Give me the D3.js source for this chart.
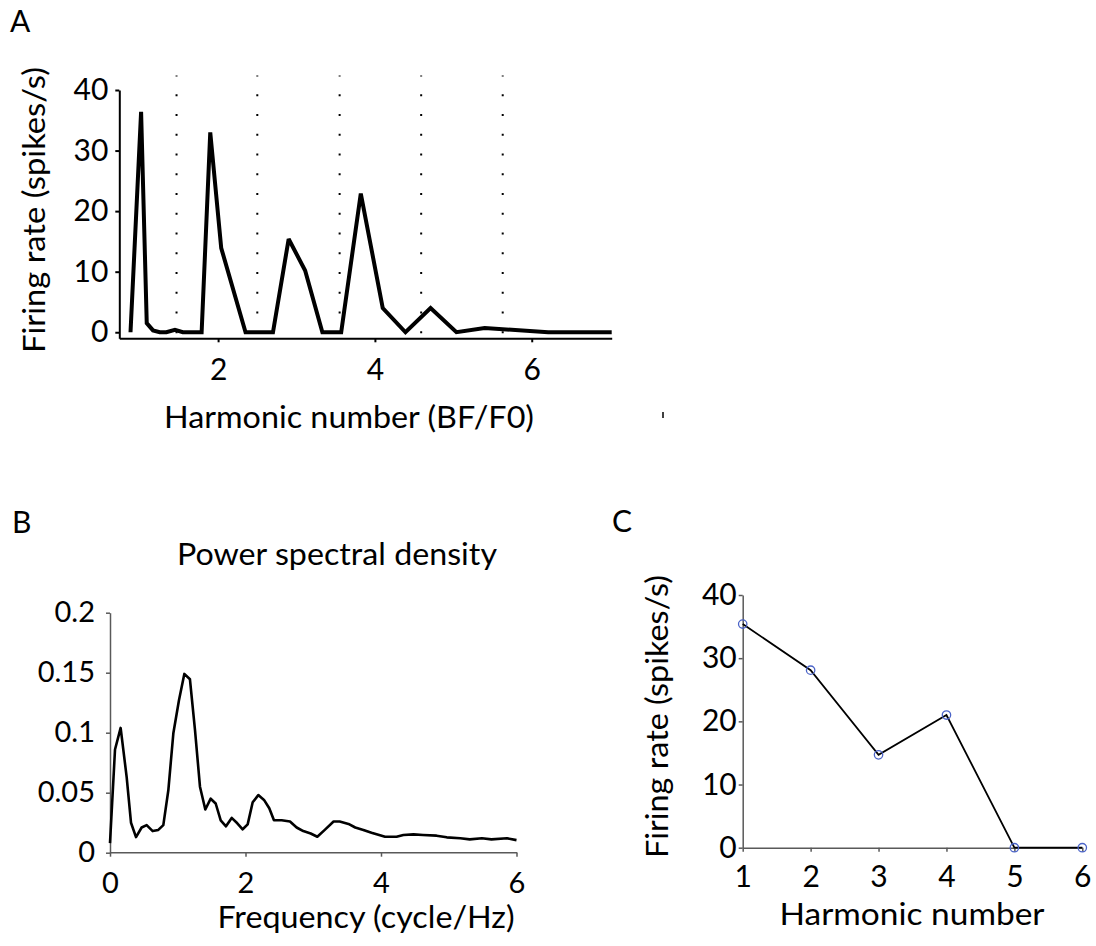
<!DOCTYPE html>
<html>
<head>
<meta charset="utf-8">
<script src="https://cdn.jsdelivr.net/npm/d3@7"></script>
<style>
  body { margin: 0; background: #fff; }
  text { font-family: Lato, "Open Sans", sans-serif; fill: #000; }
</style>
</head>
<body>
<script>
// ---------- Panel A data ----------
const harmonicA = [0.883, 1.018, 1.09, 1.17, 1.256, 1.34, 1.45, 1.55, 1.79, 1.90, 2.04, 2.35, 2.70, 2.90, 3.11, 3.33, 3.57, 3.82, 4.10, 4.39, 4.71, 5.04, 5.40, 6.21, 7.02];
const rateA = [0, 36.4, 1.5, 0.3, 0, 0, 0.4, 0, 0, 33.0, 13.9, 0, 0, 15.4, 10.2, 0, 0, 22.9, 4.0, 0, 4.0, 0, 0.7, 0, 0];
const boundariesA = [1.47, 2.50, 3.55, 4.59, 5.63];
const aYTicks = [0, 10, 20, 30, 40];
const aXTicks = [2, 4, 6];

// ---------- Panel B data ----------
const freqB = [0, 0.074, 0.157, 0.246, 0.31, 0.384, 0.467, 0.541, 0.63, 0.713, 0.787, 0.861, 0.935, 1.018, 1.097, 1.18, 1.255, 1.328, 1.407, 1.486, 1.56, 1.634, 1.712, 1.796, 1.879, 1.958, 2.032, 2.106, 2.189, 2.273, 2.351, 2.42, 2.534, 2.657, 2.755, 2.853, 2.962, 3.06, 3.17, 3.30, 3.39, 3.52, 3.62, 3.74, 3.86, 4.06, 4.23, 4.33, 4.48, 4.62, 4.82, 4.97, 5.17, 5.31, 5.49, 5.63, 5.86, 6.0];
const psdB = [0.008, 0.086, 0.104, 0.063, 0.025, 0.013, 0.021, 0.023, 0.018, 0.019, 0.023, 0.052, 0.0995, 0.127, 0.149, 0.1445, 0.102, 0.055, 0.036, 0.045, 0.041, 0.027, 0.022, 0.029, 0.0245, 0.0195, 0.0236, 0.042, 0.048, 0.044, 0.037, 0.027, 0.027, 0.026, 0.021, 0.018, 0.016, 0.0133, 0.019, 0.026, 0.026, 0.024, 0.021, 0.019, 0.0167, 0.0133, 0.0133, 0.0148, 0.0153, 0.0148, 0.0142, 0.0128, 0.012, 0.0111, 0.012, 0.0111, 0.012, 0.0105];
const bYTicks = [0, 0.05, 0.1, 0.15, 0.2];
const bXTicks = [0, 2, 4, 6];

// ---------- Panel C data ----------
const harmonicC = [1, 2, 3, 4, 5, 6];
const rateC = [35.4, 28.1, 14.7, 21.0, 0, 0];
const cYTicks = [0, 10, 20, 30, 40];
const cXTicks = [1, 2, 3, 4, 5, 6];

const svg = d3.select("body").append("svg")
  .attr("width", 1096).attr("height", 946)
  .style("background", "#fff");

const intFmt = d3.format("d");
const plainFmt = d3.format("");

function styleAxis(g, color, width, fontSize, xAxisBaseline) {
  g.select(".domain").attr("stroke", color).attr("stroke-width", width);
  g.selectAll(".tick line").attr("stroke", color).attr("stroke-width", width);
  g.selectAll(".tick text").attr("font-size", fontSize).attr("fill", "#000")
    .style("font-family", "Lato, 'Open Sans', sans-serif");
  if (xAxisBaseline !== undefined) {
    g.selectAll(".tick text").attr("y", xAxisBaseline).attr("dy", 0);
  }
}

// ================= Panel A =================
const xA = d3.scaleLinear().domain([0.74, 7.02]).range([119.3, 611.7]);
const yA = d3.scaleLinear().domain([-1, 40]).range([338.3, 90]);

// dotted boundaries
svg.append("g").selectAll("line").data(boundariesA).join("line")
  .attr("x1", d => xA(d)).attr("x2", d => xA(d))
  .attr("y1", yA(0) + 1).attr("y2", yA(42.4))
  .attr("stroke", "#000").attr("stroke-width", 2)
  .attr("stroke-dasharray", "2,17.75");

const gAy = svg.append("g").attr("transform", "translate(119.3,0)")
  .call(d3.axisLeft(yA).tickValues(aYTicks).tickFormat(intFmt).tickSize(4).tickSizeOuter(0).tickPadding(7));
styleAxis(gAy, "#000", 2, 30);
const gAx = svg.append("g").attr("transform", "translate(0,338.3)")
  .call(d3.axisBottom(xA).tickValues(aXTicks).tickFormat(intFmt).tickSize(4).tickSizeOuter(0));
styleAxis(gAx, "#000", 2, 30, 42);

svg.append("path")
  .datum(harmonicA.map((h, i) => [h, rateA[i]]))
  .attr("fill", "none").attr("stroke", "#000").attr("stroke-width", 4)
  .attr("stroke-linejoin", "miter").attr("stroke-miterlimit", 3)
  .attr("d", d3.line().x(d => xA(d[0])).y(d => yA(d[1])));

svg.append("text").attr("x", 10).attr("y", 32).attr("font-size", 30).text("A");
svg.append("text").attr("transform", "translate(45,210) rotate(-90)")
  .attr("text-anchor", "middle").attr("font-size", 31)
  .attr("textLength", 286).attr("lengthAdjust", "spacingAndGlyphs")
  .text("Firing rate (spikes/s)");
svg.append("text").attr("x", 349).attr("y", 428)
  .attr("text-anchor", "middle").attr("font-size", 31)
  .attr("textLength", 370).attr("lengthAdjust", "spacingAndGlyphs")
  .text("Harmonic number (BF/F0)");
// stray mark
svg.append("line").attr("x1", 663).attr("x2", 663).attr("y1", 412).attr("y2", 418)
  .attr("stroke", "#000").attr("stroke-width", 1.5);

// ================= Panel B =================
const xB = d3.scaleLinear().domain([0, 6]).range([110, 516.5]);
const yB = d3.scaleLinear().domain([0, 0.2]).range([852.7, 612.7]);

const gBy = svg.append("g").attr("transform", "translate(110,0)")
  .call(d3.axisLeft(yB).tickValues(bYTicks).tickFormat(plainFmt).tickSize(4).tickSizeOuter(0).tickPadding(11));
styleAxis(gBy, "#595959", 1.5, 29);
const gBx = svg.append("g").attr("transform", "translate(0,852.7)")
  .call(d3.axisBottom(xB).tickValues(bXTicks).tickFormat(intFmt).tickSize(4).tickSizeOuter(0));
styleAxis(gBx, "#595959", 1.5, 29, 40.5);
gBx.select(".domain").attr("d", "M110,0H517.3");

svg.append("path")
  .datum(freqB.map((f, i) => [f, psdB[i]]))
  .attr("fill", "none").attr("stroke", "#000").attr("stroke-width", 2.6)
  .attr("stroke-linejoin", "round")
  .attr("d", d3.line().x(d => xB(d[0])).y(d => yB(d[1])));

svg.append("text").attr("x", 12).attr("y", 533).attr("font-size", 30).text("B");
svg.append("text").attr("x", 337).attr("y", 565)
  .attr("text-anchor", "middle").attr("font-size", 30)
  .attr("textLength", 320).attr("lengthAdjust", "spacingAndGlyphs")
  .text("Power spectral density");
svg.append("text").attr("x", 366).attr("y", 928)
  .attr("text-anchor", "middle").attr("font-size", 30)
  .attr("textLength", 297).attr("lengthAdjust", "spacingAndGlyphs")
  .text("Frequency (cycle/Hz)");

// ================= Panel C =================
const xC = d3.scaleLinear().domain([1, 6]).range([742.7, 1082.3]);
const yC = d3.scaleLinear().domain([0, 40]).range([847.7, 595]);

const gCy = svg.append("g").attr("transform", "translate(742.7,0)")
  .call(d3.axisLeft(yC).tickValues(cYTicks).tickFormat(intFmt).tickSize(4).tickSizeOuter(0).tickPadding(2));
styleAxis(gCy, "#595959", 1.5, 30);
const gCx = svg.append("g").attr("transform", "translate(0,847.7)")
  .call(d3.axisBottom(xC).tickValues(cXTicks).tickFormat(intFmt).tickSize(4).tickSizeOuter(0));
styleAxis(gCx, "#595959", 1.5, 30, 39);

svg.append("path")
  .datum(harmonicC.map((h, i) => [h, rateC[i]]))
  .attr("fill", "none").attr("stroke", "#000").attr("stroke-width", 1.8)
  .attr("d", d3.line().x(d => xC(d[0])).y(d => yC(d[1])));
svg.append("g").selectAll("circle")
  .data(harmonicC.map((h, i) => [h, rateC[i]])).join("circle")
  .attr("cx", d => xC(d[0])).attr("cy", d => yC(d[1])).attr("r", 4.2)
  .attr("fill", "none").attr("stroke", "#4a63c8").attr("stroke-width", 1.3);

svg.append("text").attr("x", 612).attr("y", 532).attr("font-size", 30).text("C");
svg.append("text").attr("transform", "translate(668,716.5) rotate(-90)")
  .attr("text-anchor", "middle").attr("font-size", 30)
  .attr("textLength", 283).attr("lengthAdjust", "spacingAndGlyphs")
  .text("Firing rate (spikes/s)");
svg.append("text").attr("x", 912).attr("y", 925)
  .attr("text-anchor", "middle").attr("font-size", 30)
  .attr("textLength", 265).attr("lengthAdjust", "spacingAndGlyphs")
  .text("Harmonic number");
</script>
</body>
</html>
